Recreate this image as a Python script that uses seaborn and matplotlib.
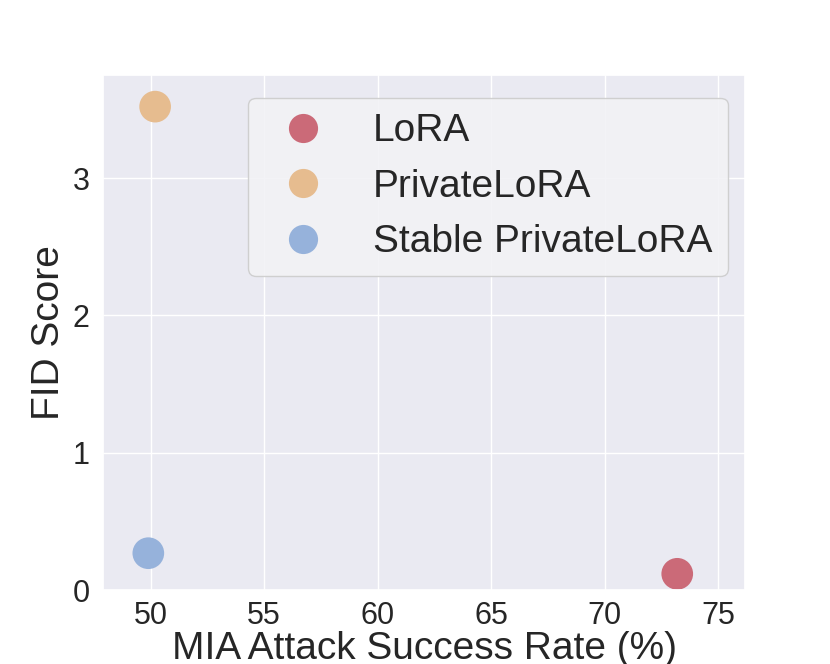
import matplotlib
matplotlib.use("Agg")
import matplotlib.pyplot as plt
import seaborn as sns
import pandas as pd

methods = ["LoRA", "PrivateLoRA", "Stable PrivateLoRA"]
mia_rate = [73.2, 50.2, 49.9]
fid_score = [0.12, 3.52, 0.27]
colors = ["#CB6A78", "#E6BC8F", "#96B2DB"]
x_ticks = [50, 55, 60, 65, 70, 75]
y_ticks = [0, 1, 2, 3]

sns.set_theme(style="darkgrid")
plt.rcParams["font.family"] = ["Liberation Sans", "DejaVu Sans"]

df = pd.DataFrame({"method": methods, "mia": mia_rate, "fid": fid_score})

fig, ax = plt.subplots(figsize=(8.3, 6.64), dpi=100)
fig.subplots_adjust(left=0.124, right=0.898, bottom=0.111, top=0.887)
sns.scatterplot(data=df, x="mia", y="fid", hue="method", hue_order=methods,
                palette=colors, s=520, linewidth=0, ax=ax, legend=True)

ax.set_xlim(47.9, 76.2)
ax.set_ylim(0, 3.75)
ax.set_xticks(x_ticks)
ax.set_yticks(y_ticks)
ax.tick_params(labelsize=22, colors="#262626")
ax.tick_params(axis="x", pad=1.5)
ax.set_xlabel("MIA Attack Success Rate (%)", fontsize=28, color="#262626", labelpad=0)
ax.set_ylabel("FID Score", fontsize=28, color="#262626")

leg = ax.legend(loc="upper right", bbox_to_anchor=(1.0, 0.99), fontsize=28,
                frameon=True, facecolor="#F2F2F5", framealpha=0.9,
                borderaxespad=0.45)
for h in leg.legend_handles:
    try:
        h.set_sizes([420])
    except Exception:
        pass
    try:
        h.set_markersize(21)
    except Exception:
        pass
for t in leg.get_texts():
    t.set_color("#262626")

fig.savefig("out.png", dpi=100)
